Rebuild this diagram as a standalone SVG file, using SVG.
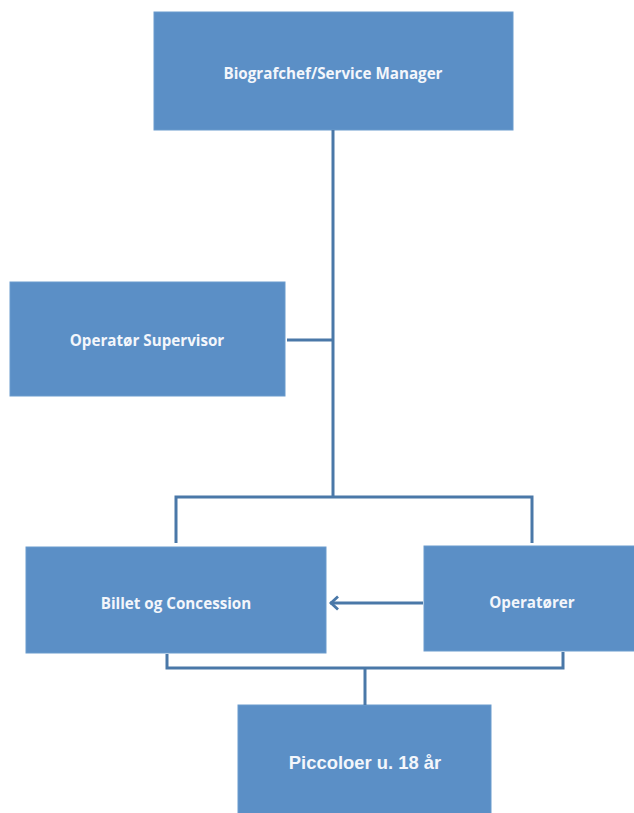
<svg xmlns="http://www.w3.org/2000/svg" width="634" height="813" viewBox="0 0 634 813">
<style>
.box{fill:#5b8fc6;stroke:#6b9bcd;stroke-width:1}
.lbl{font-family:"Open Sans","Liberation Sans",sans-serif;font-weight:bold;font-size:15.2px;fill:#f3f6fb;text-anchor:middle}
.lbl2{font-family:"Liberation Sans",Arial,sans-serif;font-weight:bold;font-size:18.4px;fill:#f3f6fb;text-anchor:middle}
.ln{fill:none;stroke:#4a78a8;stroke-width:3}
</style>
<defs>
<marker id="ah" markerWidth="16" markerHeight="18" refX="12" refY="8" orient="auto" markerUnits="userSpaceOnUse">
<path d="M4,1.5 L11,8 L4,14.5" fill="none" stroke="#4a78a8" stroke-width="2.8" stroke-linejoin="miter"/>
</marker>
</defs>
<rect width="634" height="813" fill="#ffffff"/>
<g id="biografchef">
<rect class="box" x="154" y="12" width="359" height="118"/>
<text class="lbl" x="333" y="79">Biografchef/Service Manager</text>
</g>
<g id="supervisor">
<rect class="box" x="10" y="282" width="275" height="114"/>
<text class="lbl" x="147" y="346">Operatør Supervisor</text>
</g>
<g id="billet">
<rect class="box" x="26" y="547" width="300" height="106"/>
<text class="lbl" x="176" y="609">Billet og Concession</text>
</g>
<g id="operatorer">
<rect class="box" x="424" y="546" width="212" height="105"/>
<text class="lbl" x="532" y="608">Operatører</text>
</g>
<g id="piccoloer">
<rect class="box" x="238" y="705" width="253" height="112"/>
<text class="lbl2" x="365" y="769">Piccoloer u. 18 år</text>
</g>
<g id="connectors">
<path class="ln" d="M333,130 V497"/>
<path class="ln" d="M287,340 H333"/>
<path class="ln" d="M176,543 V497 H532 V543"/>
<path class="ln" d="M167,654 V668 H563 V652"/>
<path class="ln" d="M365,668 V705"/>
<path class="ln" d="M423,603 H330" marker-end="url(#ah)"/>
</g>
</svg>
